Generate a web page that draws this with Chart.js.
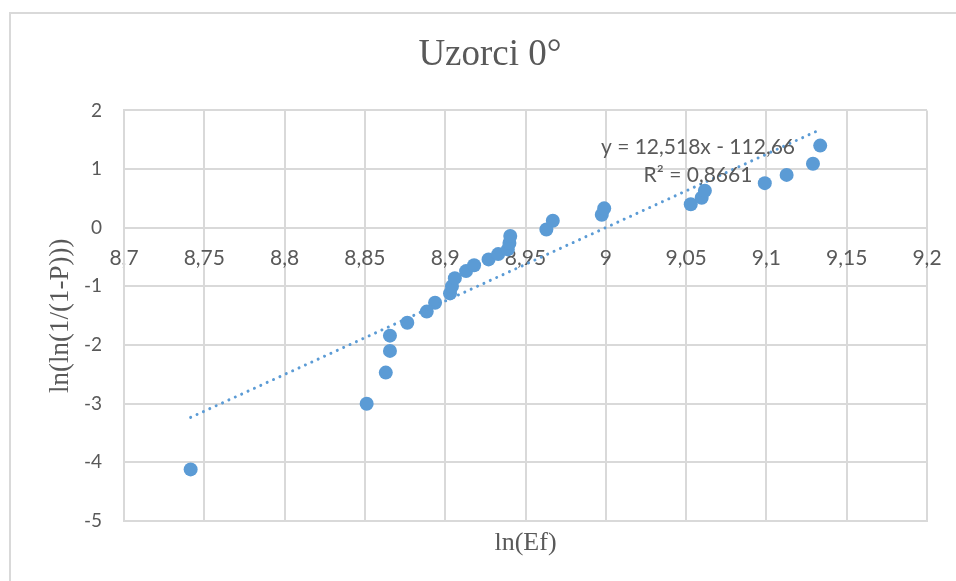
<!DOCTYPE html>
<html>
<head>
<meta charset="utf-8">
<title>Uzorci 0°</title>
<script src="https://cdn.jsdelivr.net/npm/chart.js@4"></script>
<style>
  html, body { margin: 0; padding: 0; background: #fff; overflow: hidden; }
  body { width: 956px; height: 581px; position: relative; }
  /* chart frame, only its left and top edges fall inside the page */
  #frame { position: absolute; left: 9px; top: 12px; width: 1000px; height: 700px;
           border-left: 2.5px solid #d9d9d9; border-top: 2.5px solid #d9d9d9; }
  #weibull { position: absolute; left: 0; top: 0; }
</style>
</head>
<body>
<div id="frame"></div>
<canvas id="weibull" width="976" height="581"></canvas>
<script>
// ln(Ef) per sample and the matching ln(ln(1/(1-P))) value
const lnEf = [8.7415, 8.8511, 8.8630, 8.8656, 8.8656, 8.8764, 8.8885, 8.8937, 8.9030, 8.9042,
              8.9060, 8.9130, 8.9180, 8.9270, 8.9330, 8.9390, 8.9400, 8.9405, 8.9630, 8.9670,
              8.9975, 8.9990, 9.0529, 9.0597, 9.0617, 9.0990, 9.1126, 9.1290, 9.1335];
const lnLnP = [-4.12, -3.00, -2.47, -2.10, -1.84, -1.62, -1.43, -1.28, -1.12, -1.00,
               -0.86, -0.74, -0.64, -0.54, -0.45, -0.37, -0.26, -0.14, -0.03, 0.12,
               0.22, 0.33, 0.40, 0.51, 0.63, 0.76, 0.90, 1.09, 1.40];

// linear trendline
const slope = 12.518;
const intercept = -112.66;
const rSquared = 0.8661;

const xTickLabels = ["8,7", "8,75", "8,8", "8,85", "8,9", "8,95", "9", "9,05", "9,1", "9,15", "9,2"];

const GREY = "#595959";
const GRID = "#d9d9d9";
const BLUE = "#5b9bd5";

const comma = (n) => String(n).replace(".", ",");

const points = lnEf.map((x, i) => ({ x: x, y: lnLnP[i] }));

const xMin = Math.min(...lnEf);
const xMax = Math.max(...lnEf);
const trendPoints = [
    { x: xMin, y: slope * xMin + intercept },
    { x: xMax, y: slope * xMax + intercept }
];

const eqText = `y = ${comma(slope)}x - ${comma(-intercept)}`;
const r2Text = `R² = ${comma(rSquared)}`;

// equation + R² next to the trendline
const trendLabel = {
    id: "trendLabel",
    afterDatasetsDraw(chart) {
        const { ctx, scales: { x, y } } = chart;
        const cx = x.getPixelForValue(9.0574);
        ctx.save();
        ctx.font = "21px Lato";
        ctx.fillStyle = GREY;
        ctx.textAlign = "center";
        ctx.textBaseline = "middle";
        ctx.fillText(eqText, cx, y.getPixelForValue(1.37));
        ctx.fillText(r2Text, cx, y.getPixelForValue(0.89));
        ctx.restore();
    }
};

new Chart(document.getElementById("weibull"), {
    type: "scatter",
    data: {
        datasets: [
            {
                label: "Trend",
                type: "line",
                data: trendPoints,
                xAxisID: "x",
                yAxisID: "y",
                borderColor: BLUE,
                borderWidth: 3,
                borderDash: [0.01, 7],
                borderCapStyle: "round",
                pointRadius: 0,
                fill: false
            },
            {
                label: "Uzorci 0°",
                data: points,
                xAxisID: "x",
                yAxisID: "y",
                backgroundColor: BLUE,
                borderColor: BLUE,
                borderWidth: 0,
                pointRadius: 7
            }
        ]
    },
    options: {
        responsive: false,
        animation: false,
        // left padding keeps the title centred on the whole frame
        layout: { padding: { left: 53, top: 13, right: 49, bottom: 0 } },
        plugins: {
            legend: { display: false },
            tooltip: { enabled: false },
            title: {
                display: true,
                text: "Uzorci 0°",
                color: GREY,
                font: { family: "Liberation Serif", size: 37, weight: "normal", lineHeight: 1.2 },
                padding: { top: 20, bottom: 33 }
            }
        },
        scales: {
            x: {
                type: "linear",
                position: "bottom",
                min: 8.7,
                max: 9.2,
                ticks: { display: false, stepSize: 0.05 },
                grid: { color: GRID, lineWidth: 2, drawTicks: false },
                border: { color: GRID, width: 2 },
                title: {
                    display: true,
                    text: "ln(Ef)",
                    color: GREY,
                    font: { family: "Liberation Serif", size: 26, lineHeight: 1.2 },
                    padding: { top: 6, bottom: 22 }
                },
                afterFit(scale) { scale.height = 60; }
            },
            // tick labels sit on the y = 0 line
            x0: {
                type: "linear",
                axis: "x",
                position: { y: 0 },
                min: 8.7,
                max: 9.2,
                ticks: {
                    stepSize: 0.05,
                    color: GREY,
                    padding: 18,
                    font: { family: "Lato", size: 21 },
                    callback: (v, i) => xTickLabels[i] ?? comma(v)
                },
                grid: { display: false, drawTicks: false },
                border: { display: false },
                afterFit(scale) { scale.height = 0; }
            },
            y: {
                type: "linear",
                min: -5,
                max: 2,
                ticks: {
                    stepSize: 1,
                    color: GREY,
                    padding: 22,
                    font: { family: "Lato", size: 19 }
                },
                grid: { color: GRID, lineWidth: 2, drawTicks: false },
                border: { color: GRID, width: 2 },
                title: {
                    display: true,
                    text: "ln(ln(1/(1-P)))",
                    color: GREY,
                    font: { family: "Liberation Serif", size: 27, lineHeight: 1.2 },
                    padding: { top: -8, bottom: 0 }
                },
                afterFit(scale) { scale.width = 71; }
            }
        }
    },
    plugins: [trendLabel]
});
</script>
</body>
</html>
